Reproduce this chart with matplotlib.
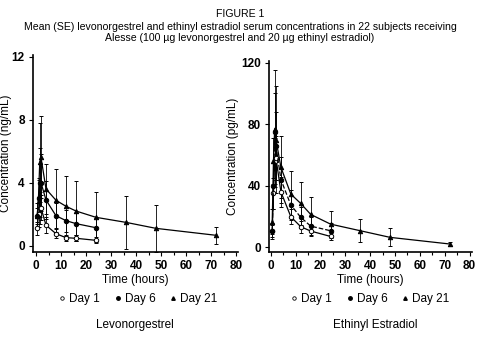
import matplotlib
matplotlib.use("Agg")
import matplotlib.pyplot as plt
from matplotlib.lines import Line2D
from matplotlib.ticker import MultipleLocator

plt.rcParams['font.family'] = ['Liberation Sans', 'DejaVu Sans']

# sampling times (hours)
t_short = [0.5, 1, 1.5, 2, 4, 8, 12, 16, 24]
t_long = [0.5, 1, 1.5, 2, 4, 8, 12, 16, 24, 36, 48, 72]

# Levonorgestrel (ng/mL)
lng_day1 = [1.1, 2.0, 2.4, 2.4, 1.3, 0.76, 0.51, 0.47, 0.34]
lng_day1_se = [0.4, 0.8, 1.0, 0.8, 0.5, 0.3, 0.2, 0.2, 0.1]
lng_day6 = [1.9, 3.0, 4.0, 4.0, 2.9, 1.9, 1.59, 1.4, 1.14]
lng_day6_se = [0.5, 1.2, 2.2, 1.8, 1.2, 0.8, 0.7, 0.7, 0.6]
lng_day21 = [1.9, 3.1, 5.3, 5.6, 3.6, 2.88, 2.5, 2.2, 1.8, 1.48, 1.1, 0.66]
lng_day21_se = [0.8, 1.2, 2.5, 2.6, 1.6, 2.0, 1.9, 1.9, 1.6, 1.7, 1.5, 0.55]

# Ethinyl estradiol (pg/mL)
ee_day1 = [10.6, 35, 56, 58, 36, 19.9, 13.4, 10.6, 7.1]
ee_day1_se = [4, 10, 15, 14, 10, 5, 4, 3, 2]
ee_day6 = [10.6, 40, 75, 66, 44, 27.5, 19.5, 13.8, 10.8]
ee_day6_se = [5, 15, 25, 22, 15, 10, 7, 6, 5]
ee_day21 = [16.6, 56, 77, 70, 52, 34.6, 28.5, 21.4, 15.1, 10.8, 6.5, 2.2]
ee_day21_se = [8, 15, 38, 35, 20, 15, 14, 11, 8.5, 7.6, 5.8, 1.0]

fig = plt.figure(figsize=(4.8, 3.38), dpi=100, facecolor='w')

fig.text(0.5, 1 - 14/338, "FIGURE 1", ha='center', va='center', fontsize=7.6)
fig.text(0.5, 1 - 27/338,
         "Mean (SE) levonorgestrel and ethinyl estradiol serum concentrations in 22 subjects receiving",
         ha='center', va='center', fontsize=7.6)
fig.text(0.5, 1 - 38/338,
         "Alesse (100 \u00b5g levonorgestrel and 20 \u00b5g ethinyl estradiol)",
         ha='center', va='center', fontsize=7.6)


def draw_panel(ax, series, ylim, ystep, ylabel, label_x):
    for t, y, e, mk, fc, ls in series:
        ax.errorbar(t, y, yerr=e, color='black', linestyle=ls, linewidth=0.9,
                    marker=mk, markersize=3.2, markerfacecolor=fc,
                    markeredgecolor='black', markeredgewidth=0.7,
                    elinewidth=0.6, capsize=1.2, capthick=0.6)
    ax.set_ylim(*ylim)
    ax.xaxis.set_major_locator(MultipleLocator(10))
    ax.xaxis.set_minor_locator(MultipleLocator(5))
    ax.yaxis.set_major_locator(MultipleLocator(ystep))
    for s in ['top', 'right']:
        ax.spines[s].set_visible(False)
    ax.spines['left'].set_linewidth(1.2)
    ax.spines['bottom'].set_linewidth(1.2)
    ax.tick_params(which='both', direction='out', length=3, width=0.8,
                   labelsize=8.5, pad=3)
    ax.tick_params(which='minor', length=2)
    for lab in ax.get_xticklabels() + ax.get_yticklabels():
        lab.set_fontweight('bold')
    ax.set_ylabel(ylabel, fontsize=8.5)
    ax.yaxis.set_label_coords(label_x, 0.5)
    ax.set_xlabel("Time (hours)", fontsize=8.5, labelpad=1)


ax1 = fig.add_axes([33/480, 1 - 252/338, 205/480, 197/338])
draw_panel(ax1, [
    (t_short, lng_day1, lng_day1_se, 'o', 'white', '-'),
    (t_short, lng_day6, lng_day6_se, 'o', 'black', '-'),
    (t_long, lng_day21, lng_day21_se, '^', 'black', '-'),
], (-0.4, 12.1), 4, "Concentration (ng/mL)", -0.1)
ax1.set_xlim(-1.2, 80.8)

ax2 = fig.add_axes([269/480, 1 - 252/338, 203/480, 191/338])
draw_panel(ax2, [
    (t_short, ee_day1, ee_day1_se, 'o', 'white', '-'),
    (t_short, ee_day6, ee_day6_se, 'o', 'black', '--'),
    (t_long, ee_day21, ee_day21_se, '^', 'black', '-'),
], (-3, 121), 40, "Concentration (pg/mL)", -0.15)
ax2.set_xlim(-0.8, 81)

handles = [
    Line2D([], [], linestyle='none', marker='o', markersize=2.5,
           markerfacecolor='white', markeredgecolor='black', markeredgewidth=0.6),
    Line2D([], [], linestyle='none', marker='o', markersize=2.5,
           markerfacecolor='black', markeredgecolor='black'),
    Line2D([], [], linestyle='none', marker='^', markersize=2.5,
           markerfacecolor='black', markeredgecolor='black'),
]
labels = ["Day 1", "Day 6", "Day 21"]
for cx in [138/480, 370/480]:
    fig.legend(handles, labels, loc='center', bbox_to_anchor=(cx, 1 - 299/338),
               ncol=3, frameon=False, fontsize=8.5, handlelength=0.6,
               handletextpad=0.3, columnspacing=1.2, borderpad=0)

fig.text(135/480, 1 - 325/338, "Levonorgestrel", ha='center', va='center', fontsize=8.5)
fig.text(375/480, 1 - 325/338, "Ethinyl Estradiol", ha='center', va='center', fontsize=8.5)

fig.savefig("out.png", dpi=100, facecolor='w')
